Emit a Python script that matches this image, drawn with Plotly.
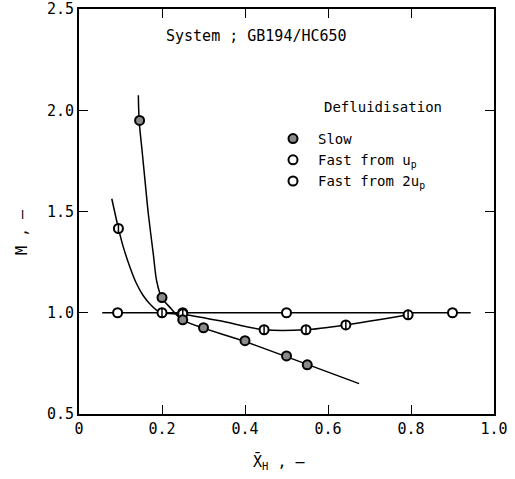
import plotly.graph_objects as go

# ---- data ----
slow_x = [0.146, 0.2, 0.25, 0.3, 0.4, 0.5, 0.55]
slow_y = [1.95, 1.075, 0.965, 0.926, 0.862, 0.787, 0.743]

fastup_x = [0.095, 0.2, 0.25, 0.446, 0.547, 0.643, 0.793]
fastup_y = [1.416, 1.0, 0.995, 0.916, 0.916, 0.94, 0.99]

fast2up_x = [0.093, 0.25, 0.5, 0.9]
fast2up_y = [1.0, 1.0, 1.0, 1.0]

# hand-drawn fitted curves
slow_curve_x = [0.143, 0.145, 0.152, 0.159, 0.167, 0.179, 0.187, 0.199, 0.222, 0.248, 0.4, 0.55, 0.675]
slow_curve_y = [2.074, 1.947, 1.80, 1.654, 1.489, 1.29, 1.158, 1.076, 1.02, 0.966, 0.858, 0.745, 0.65]

fastup_curve_x = [0.079, 0.095, 0.107, 0.123, 0.139, 0.155, 0.171, 0.195, 0.25, 0.34, 0.446, 0.547, 0.643, 0.793]
fastup_curve_y = [1.563, 1.417, 1.323, 1.224, 1.142, 1.084, 1.043, 1.002, 0.993, 0.96, 0.916, 0.916, 0.94, 0.99]

fast2up_line_x = [0.056, 0.944]
fast2up_line_y = [1.0, 1.0]

x_ticks = [0, 0.2, 0.4, 0.6, 0.8, 1.0]
x_ticktext = ["0", "0.2", "0.4", "0.6", "0.8", "1.0"]
y_ticks = [0.5, 1.0, 1.5, 2.0, 2.5]
y_ticktext = ["0.5", "1.0", "1.5", "2.0", "2.5"]

FONT = "DejaVu Sans Mono"
W, H = 515, 479
L, R, T, B = 79, 21, 9, 65

fig = go.Figure()

line_style = dict(color="black", width=1.5)
fig.add_trace(go.Scatter(x=slow_curve_x, y=slow_curve_y, mode="lines",
                         line=dict(shape="spline", smoothing=0.8, **line_style),
                         showlegend=False, hoverinfo="skip"))
fig.add_trace(go.Scatter(x=fastup_curve_x, y=fastup_curve_y, mode="lines",
                         line=dict(shape="spline", smoothing=0.8, **line_style),
                         showlegend=False, hoverinfo="skip"))
fig.add_trace(go.Scatter(x=fast2up_line_x, y=fast2up_line_y, mode="lines",
                         line=line_style, showlegend=False, hoverinfo="skip"))

MS = 9
fig.add_trace(go.Scatter(x=fast2up_x, y=fast2up_y, mode="markers", name="Fast from 2u<sub>p</sub>",
                         marker=dict(symbol="circle", size=MS, color="white",
                                     line=dict(color="black", width=2))))
fig.add_trace(go.Scatter(x=fastup_x, y=fastup_y, mode="markers", name="Fast from u<sub>p</sub>",
                         marker=dict(symbol="circle", size=MS, color="white",
                                     line=dict(color="black", width=2))))
fig.add_trace(go.Scatter(x=fastup_x, y=fastup_y, mode="markers", showlegend=False,
                         marker=dict(symbol="line-ns", size=7, color="black",
                                     line=dict(color="black", width=1.5))))
fig.add_trace(go.Scatter(x=slow_x, y=slow_y, mode="markers", name="Slow",
                         marker=dict(symbol="circle", size=MS, color="#8a8a8a",
                                     line=dict(color="black", width=2))))

axis_common = dict(showgrid=False, zeroline=False, showline=True, linecolor="black",
                   linewidth=2, mirror="ticks", ticks="inside", ticklen=9,
                   tickwidth=1, tickcolor="black", automargin=False,
                   tickfont=dict(family=FONT, size=15, color="black"))

fig.update_xaxes(range=[0, 1.0], tickvals=x_ticks, ticktext=x_ticktext, **axis_common)
fig.update_yaxes(range=[0.5, 2.5], tickvals=y_ticks, ticktext=y_ticktext, **axis_common)

def px_x(p):
    return (p - L) / (W - L - R)

def px_y(p):
    return (H - B - p) / (H - T - B)

fig.update_layout(
    width=W, height=H,
    margin=dict(l=L, r=R, t=T, b=B),
    paper_bgcolor="white", plot_bgcolor="white",
    font=dict(family=FONT, size=14, color="black"),
    legend=dict(x=px_x(268), y=px_y(123), xanchor="left", yanchor="top",
                traceorder="reversed", bgcolor="rgba(0,0,0,0)",
                font=dict(family=FONT, size=14, color="black"),
                itemwidth=40),
    annotations=[
        dict(text="System ; GB194/HC650", x=px_x(256), y=px_y(36), xref="paper", yref="paper",
             xanchor="center", yanchor="middle",
             showarrow=False, font=dict(family=FONT, size=15)),
        dict(text="Defluidisation", x=px_x(322), y=px_y(107), xref="paper", yref="paper",
             xanchor="left", yanchor="middle", showarrow=False, font=dict(family=FONT, size=14)),
        dict(text="M , —", textangle=-90, x=px_x(22), y=px_y(232), xref="paper", yref="paper",
             xanchor="center", yanchor="middle",
             showarrow=False, font=dict(family=FONT, size=15)),
        dict(text="X\u0304<sub>H</sub> , —", x=px_x(251), y=px_y(462), xref="paper", yref="paper",
             xanchor="left", yanchor="middle", showarrow=False, font=dict(family=FONT, size=15)),
    ],
)

fig.write_html("out.html")
